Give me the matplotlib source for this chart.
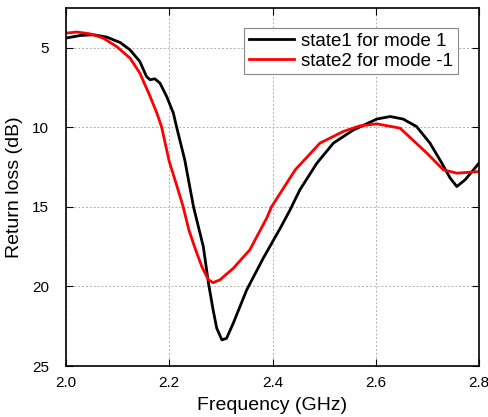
import matplotlib
matplotlib.use("Agg")
import matplotlib.pyplot as plt

plt.rcParams['font.family'] = ['Liberation Sans', 'DejaVu Sans']

freq_state1 = [2.000, 2.027, 2.053, 2.079, 2.105, 2.124, 2.143, 2.156, 2.163, 2.172,
               2.182, 2.195, 2.208, 2.214, 2.230, 2.247, 2.258, 2.266, 2.276, 2.285,
               2.292, 2.302, 2.311, 2.324, 2.350, 2.382, 2.415, 2.434, 2.453, 2.486,
               2.518, 2.557, 2.602, 2.628, 2.653, 2.679, 2.705, 2.728, 2.744, 2.757,
               2.773, 2.786, 2.800]
rl_state1 = [4.39, 4.23, 4.18, 4.33, 4.67, 5.13, 5.86, 6.81, 7.01, 6.95,
             7.22, 8.06, 9.11, 9.95, 12.04, 15.00, 16.45, 17.50, 19.80, 21.48,
             22.63, 23.36, 23.26, 22.31, 20.22, 18.23, 16.34, 15.19, 13.93, 12.25,
             10.99, 10.16, 9.48, 9.32, 9.48, 9.95, 10.99, 12.25, 13.18, 13.72,
             13.30, 12.80, 12.25]

freq_state2 = [2.000, 2.021, 2.046, 2.072, 2.098, 2.124, 2.143, 2.163, 2.176, 2.185,
               2.200, 2.214, 2.227, 2.238, 2.250, 2.263, 2.276, 2.285, 2.298, 2.324,
               2.356, 2.389, 2.398, 2.415, 2.444, 2.492, 2.537, 2.569, 2.602, 2.647,
               2.699, 2.731, 2.757, 2.800]
rl_state2 = [4.08, 4.01, 4.12, 4.39, 4.92, 5.65, 6.59, 8.06, 9.11, 9.95,
             12.15, 13.60, 15.00, 16.45, 17.60, 18.75, 19.59, 19.76, 19.59, 18.86,
             17.70, 15.69, 15.00, 14.14, 12.67, 10.99, 10.26, 9.91, 9.78, 10.05,
             11.62, 12.67, 12.88, 12.78]

labels = ['state1 for mode 1', 'state2 for mode -1']

fig = plt.figure(figsize=(4.89, 4.17), dpi=100)
ax = fig.add_axes([66/489, 1 - 366/417, (479-66)/489, (366-8)/417])

ax.plot(freq_state1, rl_state1, color='black', lw=2.0, label=labels[0],
        solid_joinstyle='round')
ax.plot(freq_state2, rl_state2, color='red', lw=2.0, label=labels[1],
        solid_joinstyle='round')

ax.set_xlim(2.0, 2.8)
ax.set_ylim(25, 2.5)
ax.set_xticks([2.0, 2.2, 2.4, 2.6, 2.8])
ax.set_yticks([5, 10, 15, 20, 25])
ax.xaxis.set_major_formatter(matplotlib.ticker.FormatStrFormatter('%.1f'))
ax.grid(True, linestyle=(0, (2, 2)), color='#b0b0b0', lw=0.7)
ax.tick_params(direction='in', top=True, right=True, labelsize=11, length=5)
ax.tick_params(axis='y', pad=12)
ax.tick_params(axis='x', pad=7)
for s in ax.spines.values():
    s.set_linewidth(1.2)
ax.set_xlabel('Frequency (GHz)', fontsize=14, labelpad=5)
ax.set_ylabel('Return loss (dB)', fontsize=14, labelpad=7)

leg = ax.legend(loc='upper right', bbox_to_anchor=(458/489, 1 - 28/417), bbox_transform=fig.transFigure,
                fontsize=13.5, fancybox=False, framealpha=1, edgecolor='#888888',
                handlelength=2.4, borderpad=0.25, labelspacing=0.15, handletextpad=0.4,
                borderaxespad=0)
leg.get_frame().set_linewidth(0.8)

fig.savefig('out.png', dpi=100)
